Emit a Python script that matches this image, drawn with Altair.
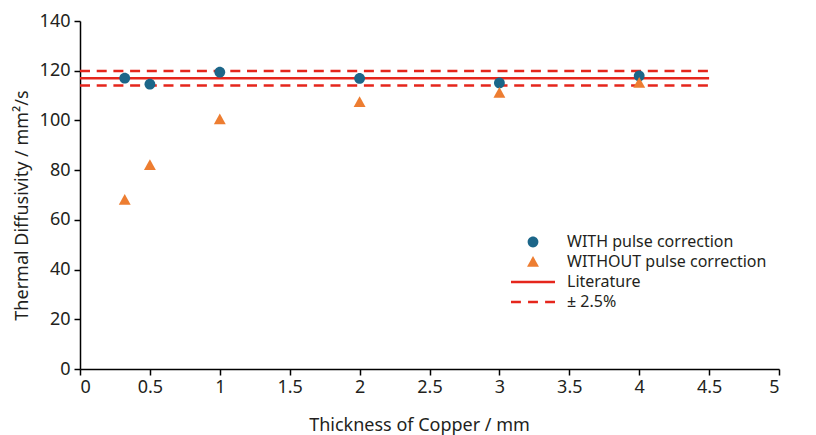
import altair as alt
import pandas as pd

# Measured thermal diffusivity of copper samples of different thickness
thickness = [0.32, 0.5, 1, 2, 3, 4]
with_corr = [117.0, 114.6, 119.4, 116.9, 115.1, 117.9]
without_corr = [68.0, 82.0, 100.4, 107.3, 111.1, 115.1]

# Literature value and its tolerance band
literature = 117.0
tolerance_pct = 2.5
line_span = [0, 4.5]

series = ["WITH pulse correction", "WITHOUT pulse correction", "Literature", "± 2.5%"]
colors = ["#1C6689", "#ED7D31", "#E5261C", "#E5261C"]

x_ticks = [0, 0.5, 1, 1.5, 2, 2.5, 3, 3.5, 4, 4.5, 5]
y_ticks = [0, 20, 40, 60, 80, 100, 120, 140]

FONT = "Noto Sans"
TEXT = "#231F20"
FS = 18
SIZE = 1936  # symbol scale: path unit = sqrt(SIZE)/2 = 22 px

# Symbol paths in the [-1, 1] unit box (scaled by sqrt(size)/2)
circle = "M-0.245,0A0.245,0.245,0,1,0,0.245,0A0.245,0.245,0,1,0,-0.245,0Z"
triangle = "M0,-0.27L0.27,0.22L-0.27,0.22Z"
solid = "M-1,-0.055L1,-0.055L1,0.055L-1,0.055Z"
dashed = ("M-1,-0.055L-0.55,-0.055L-0.55,0.055L-1,0.055Z"
          "M-0.225,-0.055L0.225,-0.055L0.225,0.055L-0.225,0.055Z"
          "M0.55,-0.055L1,-0.055L1,0.055L0.55,0.055Z")
shapes = [circle, triangle, solid, dashed]

points = pd.DataFrame({
    "thickness": thickness + thickness,
    "diffusivity": with_corr + without_corr,
    "series": [series[0]] * len(thickness) + [series[1]] * len(thickness),
})

lit_df = pd.DataFrame({"x0": [line_span[0]], "x1": [line_span[1]], "y": [literature]})
band_df = pd.DataFrame({
    "x0": [line_span[0]] * 2,
    "x1": [line_span[1]] * 2,
    "y": [literature * (1 + tolerance_pct / 100), literature * (1 - tolerance_pct / 100)],
})

x_scale = alt.Scale(domain=[0, 5], nice=False)
y_scale = alt.Scale(domain=[0, 140], nice=False)

x_axis = alt.Axis(values=x_ticks, format="~g", title="Thickness of Copper / mm",
                  titlePadding=20, labelPadding=3, titleX=339)
y_axis = alt.Axis(values=y_ticks, title="Thermal Diffusivity / mm²/s",
                  titlePadding=8, labelPadding=4, titleY=184)

lit_rule = alt.Chart(lit_df).mark_rule(color=colors[2], strokeWidth=2.5).encode(
    x=alt.X("x0:Q", scale=x_scale, axis=x_axis),
    x2="x1:Q",
    y=alt.Y("y:Q", scale=y_scale, axis=y_axis),
)

band_rule = alt.Chart(band_df).mark_rule(
    color=colors[3], strokeWidth=2.5, strokeDash=[10, 6.7]
).encode(
    x=alt.X("x0:Q", scale=x_scale),
    x2="x1:Q",
    y=alt.Y("y:Q", scale=y_scale),
)

legend = alt.Legend(
    title=None, orient="none", legendX=431, legendY=211,
    labelFont=FONT, labelFontSize=16, labelColor=TEXT, labelLimit=0,
    symbolSize=SIZE, clipHeight=20, labelOffset=12, rowPadding=0,
    symbolStrokeWidth=0, symbolOpacity=1, padding=0,
)

pts = alt.Chart(points).mark_point(filled=True, opacity=1, size=SIZE, strokeWidth=0).encode(
    x=alt.X("thickness:Q", scale=x_scale),
    y=alt.Y("diffusivity:Q", scale=y_scale),
    color=alt.Color("series:N", scale=alt.Scale(domain=series, range=colors), legend=legend),
    shape=alt.Shape("series:N", scale=alt.Scale(domain=series, range=shapes), legend=legend),
    order=alt.Order("series:N"),
)

chart = (
    alt.layer(lit_rule, band_rule, pts)
    .properties(
        width=699, height=348,
        autosize=alt.AutoSizeParams(type="none"),
        padding={"left": 80, "top": 21, "right": 37, "bottom": 66},
    )
    .configure_view(stroke=None)
    .configure_axis(
        grid=False, domainColor="#000000", tickColor="#000000", domainWidth=1.5,
        tickWidth=1.5, tickSize=6,
        labelFont=FONT, labelFontSize=FS, labelColor=TEXT,
        titleFont=FONT, titleFontSize=FS, titleColor=TEXT, titleFontWeight="normal",
    )
)

chart.save("out.html", embed_options={"renderer": "svg", "actions": False})
